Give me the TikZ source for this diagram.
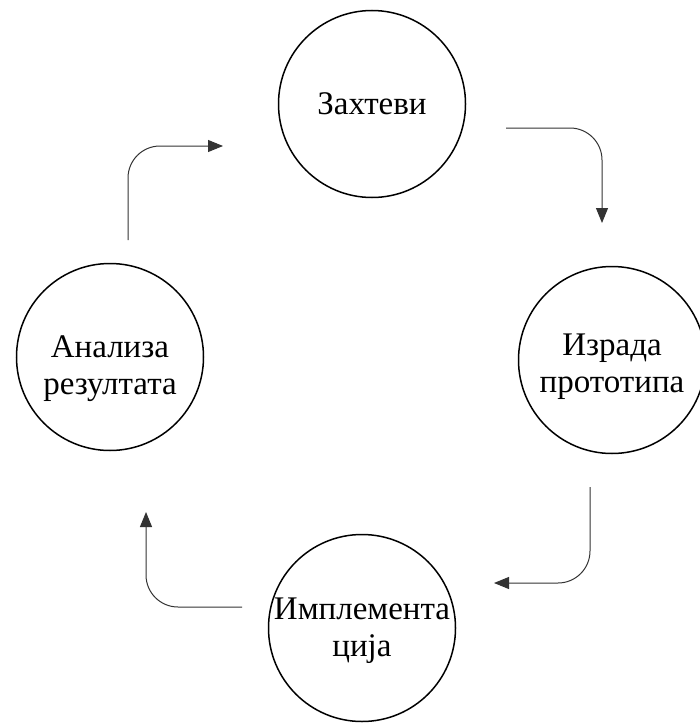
\documentclass[tikz,border=0pt]{standalone}
\usepackage{fontspec}
\setmainfont{Liberation Serif}
\usetikzlibrary{arrows.meta}
\begin{document}
\begin{tikzpicture}[x=1pt,y=-1pt,
  phase/.style={draw=black,line width=1.5pt,circle,minimum size=187pt,inner sep=0pt},
  phasetext/.style={align=center,inner sep=0pt,font=\fontsize{33}{37}\selectfont},
  flow/.style={draw=black!80,line width=1pt,rounded corners=32pt,
    -{Triangle[length=15pt,width=12pt]}}]
  \useasboundingbox (0,0) rectangle (700,725);

  % the four phases of the cycle
  \node[phase] (req)  at (372,104) {};
  \node[phase] (prot) at (612,360) {};
  \node[phase] (impl) at (362,628) {};
  \node[phase] (anal) at (110,357) {};

  % their labels, set a little below the centre where they have two lines
  \node[phasetext] (req-t)  at (req.center) {Захтеви};
  \node[phasetext] (prot-t) at ([yshift=-7pt]prot.center) {Израда\\прототипа};
  \node[phasetext] (impl-t) at ([yshift=-3pt]impl.center) {Имплемента\\ција};
  \node[phasetext] (anal-t) at ([yshift=-12pt]anal.center) {Анализа\\резултата};

  % free ends of the elbow connectors
  \coordinate (a1) at (128,240);
  \coordinate (a2) at (223,146);
  \coordinate (b1) at (506,128);
  \coordinate (b2) at (602,223);
  \coordinate (c1) at (590,487);
  \coordinate (c2) at (494,583);
  \coordinate (d1) at (242,607);
  \coordinate (d2) at (146,512);

  \draw[flow] (a1) |- (a2);
  \draw[flow] (b1) -| (b2);
  \draw[flow] (c1) |- (c2);
  \draw[flow] (d1) -| (d2);
\end{tikzpicture}
\end{document}
